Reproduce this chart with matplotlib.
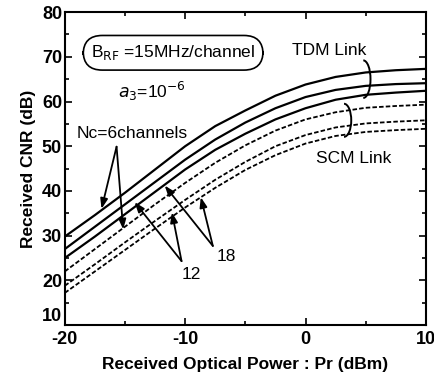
import matplotlib
matplotlib.use("Agg")
import matplotlib.pyplot as plt
from matplotlib.patches import Arc

plt.rcParams['font.family'] = ['Liberation Sans', 'DejaVu Sans']
plt.rcParams['axes.unicode_minus'] = False

pr = [-20, -17.5, -15, -12.5, -10, -7.5, -5, -2.5, 0, 2.5, 5, 7.5, 10]

tdm_6 = [29.8, 34.6, 39.6, 44.8, 50.0, 54.5, 58.0, 61.3, 63.8, 65.5, 66.5, 67.0, 67.3]
tdm_12 = [27.0, 32.0, 37.0, 42.0, 47.0, 51.5, 55.3, 58.5, 61.0, 62.6, 63.5, 63.9, 64.1]
tdm_18 = [25.0, 29.8, 34.8, 39.8, 44.8, 49.2, 52.8, 56.0, 58.5, 60.4, 61.5, 62.0, 62.4]

scm_6 = [22.0, 27.0, 32.0, 37.0, 41.8, 46.3, 50.2, 53.5, 56.0, 57.6, 58.6, 59.0, 59.3]
scm_12 = [18.8, 23.6, 28.5, 33.3, 38.0, 42.5, 46.5, 50.0, 52.5, 54.2, 55.1, 55.5, 55.8]
scm_18 = [17.2, 22.0, 26.8, 31.6, 36.3, 40.7, 44.7, 48.0, 50.6, 52.3, 53.2, 53.6, 53.9]

fig = plt.figure(figsize=(4.35, 3.78), dpi=100)
ax = fig.add_axes([0.149, 0.140, 0.830, 0.828])

for y in [tdm_6, tdm_12, tdm_18]:
    ax.plot(pr, y, color="black", lw=1.6)
for y in [scm_6, scm_12, scm_18]:
    ax.plot(pr, y, color="black", lw=1.3, ls=(0, (2.5, 1.2)))

ax.set_xlim(-20, 10)
ax.set_ylim(10, 80)
ax.set_xticks([-20, -10, 0, 10])
ax.set_xticks([-15, -5, 5], minor=True)
ax.set_yticks(range(10, 81, 10))
ax.set_yticks(range(15, 80, 10), minor=True)
ax.tick_params(which="both", direction="in", top=True, right=True,
               labelsize=13, width=1.2)
ax.tick_params(which="major", length=5)
ax.tick_params(which="minor", length=3)
ax.tick_params(axis="x", pad=4)
ax.tick_params(axis="y", pad=2)
for lab in ax.get_xticklabels() + ax.get_yticklabels():
    lab.set_fontweight("bold")
# bottom y label sits on the axis line, as in the original
ax.get_yticklabels()[0].set_verticalalignment("bottom")
for s in ax.spines.values():
    s.set_linewidth(1.5)

ax.set_xlabel("Received Optical Power : Pr (dBm)", fontsize=12.5,
              fontweight="bold", labelpad=7)
ax.set_ylabel("Received CNR (dB)", fontsize=12.5, fontweight="bold", labelpad=4)

fs = 12.5
ax.text(-11.0, 70.9, r"B$_{\mathrm{RF}}$ =15MHz/channel", fontsize=fs,
        ha="center", va="center",
        bbox=dict(boxstyle="round,pad=0.45,rounding_size=1.1",
                  fc="white", ec="black", lw=1.2))
ax.text(-12.8, 62.3, r"$a_3$=10$^{-6}$", fontsize=fs, ha="center", va="center")
ax.text(-19.0, 52.9, "Nc=6channels", fontsize=fs, ha="left", va="center")
ax.text(2.0, 71.3, "TDM Link", fontsize=fs, ha="center", va="center")
ax.text(4.0, 47.2, "SCM Link", fontsize=fs, ha="center", va="center")
ax.text(-9.5, 21.3, "12", fontsize=fs, ha="center", va="center")
ax.text(-6.6, 25.4, "18", fontsize=fs, ha="center", va="center")

arw = dict(arrowstyle="-|>,head_length=0.6,head_width=0.22", color="black",
           lw=1.3, shrinkA=0, shrinkB=0)
for tip in [(-16.95, 36.0), (-15.15, 31.4)]:
    ax.annotate("", xy=tip, xytext=(-15.7, 49.9), arrowprops=arw)
for tip in [(-14.2, 37.5), (-11.1, 35.2)]:
    ax.annotate("", xy=tip, xytext=(-10.3, 24.3), arrowprops=arw)
for tip in [(-11.7, 41.2), (-8.7, 38.6)]:
    ax.annotate("", xy=tip, xytext=(-7.7, 27.7), arrowprops=arw)

ax.add_patch(Arc((4.8, 65.0), 1.2, 8.4, theta1=-90, theta2=90, color="black", lw=1.4))
ax.add_patch(Arc((3.2, 55.8), 1.2, 7.4, theta1=-90, theta2=90, color="black", lw=1.4))

fig.savefig("out.png", dpi=100)
